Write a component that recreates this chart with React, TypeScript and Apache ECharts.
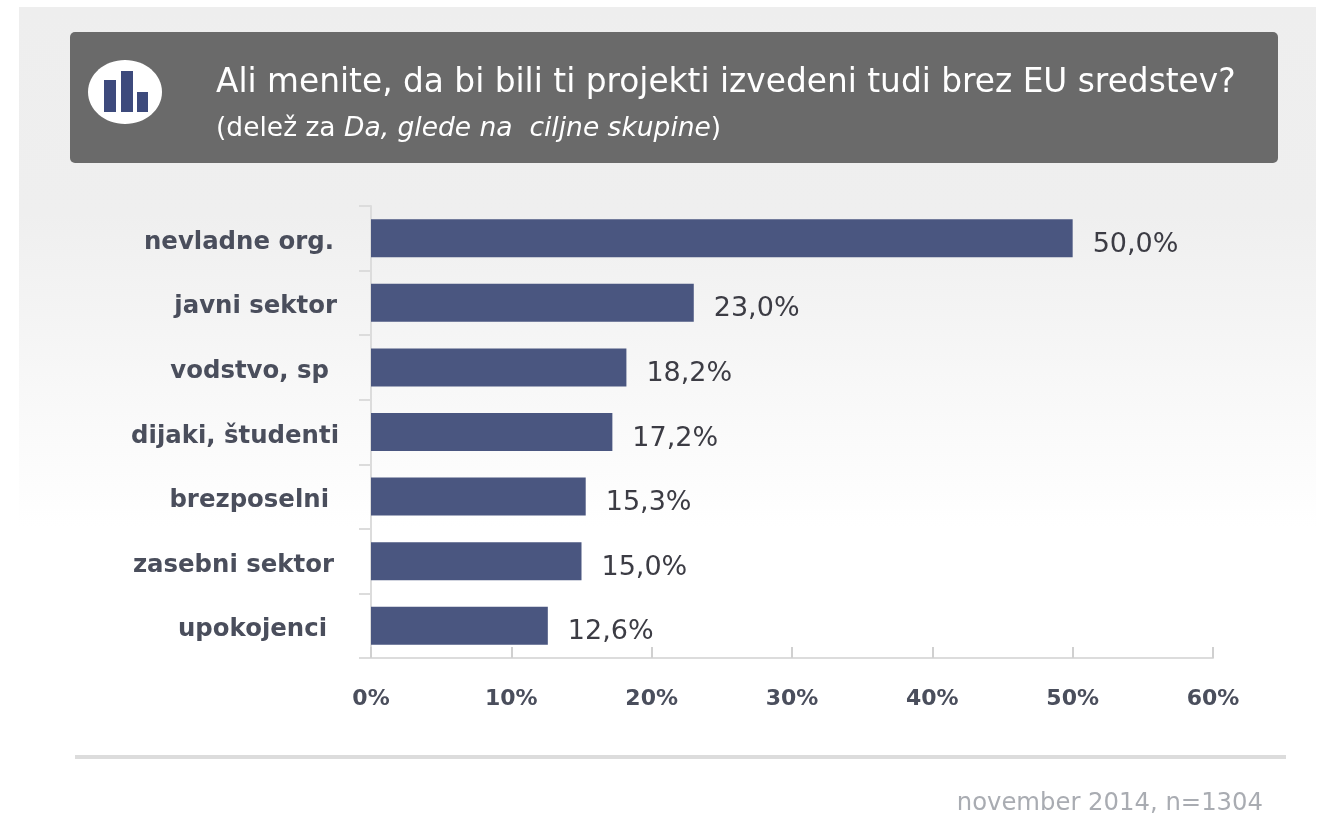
import React, { useEffect, useRef } from "react";
import * as echarts from "echarts";

const categories = ["nevladne org.", "javni sektor", "vodstvo, sp", "dijaki, študenti", "brezposelni", "zasebni sektor", "upokojenci"];
const values = [50.0, 23.0, 18.2, 17.2, 15.3, 15.0, 12.6];
const labelInsets = [5, 2, 10, 0, 10, 5, 12];
const titleText = "Ali menite, da bi bili ti projekti izvedeni tudi brez EU sredstev?";
const footerText = "november 2014, n=1304";
const FONT = "'DejaVu Sans', sans-serif";

export default function App() {
  const ref = useRef<HTMLDivElement>(null);
  useEffect(() => {
    const chart = echarts.init(ref.current!, undefined, { renderer: "svg" });
    const rich: any = {};
    labelInsets.forEach((p, i) => {
      rich["c" + i] = { fontFamily: FONT, fontSize: 24.4, fontWeight: "bold", color: "#4a4e5c", padding: [4, p, 0, 0] };
    });
    chart.setOption({
      animation: false,
      backgroundColor: "#ffffff",
      grid: { left: 371, right: 110, top: 206, bottom: 156 },
      xAxis: {
        type: "value", min: 0, max: 60, interval: 10,
        splitLine: { show: false },
        axisLine: { show: true, lineStyle: { color: "#dcdcdc", width: 2 } },
        axisTick: { show: true, inside: true, length: 11, lineStyle: { color: "#d0d0d0", width: 2 } },
        axisLabel: { margin: 28, fontFamily: FONT, fontSize: 22, fontWeight: "bold", color: "#4a4e5c", formatter: "{value}%" },
      },
      yAxis: {
        type: "category", inverse: true, data: categories,
        axisLine: { show: true, onZero: false, lineStyle: { color: "#dcdcdc", width: 2 } },
        axisTick: { show: true, length: 12, lineStyle: { color: "#dcdcdc", width: 2 } },
        axisLabel: {
          margin: 32,
          formatter: (v: string) => `{c${categories.indexOf(v)}|${v}}`,
          rich,
        },
      },
      series: [{
        type: "bar", data: values, barWidth: 38, itemStyle: { color: "#4a5680" },
        label: {
          show: true, position: "right", distance: 20, offset: [0, 4],
          fontFamily: FONT, fontSize: 27, color: "#3c3c44",
          formatter: (p: any) => p.value.toFixed(1).replace(".", ",") + "%",
        },
      }],
      graphic: [
        { type: "rect", z: -10, silent: true, shape: { x: 19, y: 7, width: 1297, height: 520 },
          style: { fill: new echarts.graphic.LinearGradient(0, 0, 0, 1, [
            { offset: 0, color: "#eeeeee" }, { offset: 0.4, color: "#efefef" }, { offset: 1, color: "#ffffff" },
          ]) } },
        { type: "rect", z: 1, shape: { x: 70, y: 32, width: 1208, height: 131, r: 5 }, style: { fill: "#6a6a6a" } },
        { type: "ellipse", z: 2, shape: { cx: 125, cy: 92, rx: 37, ry: 32 }, style: { fill: "#ffffff" } },
        { type: "rect", z: 3, shape: { x: 104, y: 80, width: 12, height: 32 }, style: { fill: "#3d4a7c" } },
        { type: "rect", z: 3, shape: { x: 121, y: 71, width: 12, height: 41 }, style: { fill: "#3d4a7c" } },
        { type: "rect", z: 3, shape: { x: 137, y: 92, width: 11, height: 20 }, style: { fill: "#3d4a7c" } },
        { type: "text", z: 3, x: 216, y: 81, style: { text: titleText, fill: "#ffffff", font: `32.8px ${FONT}`, verticalAlign: "middle" } },
        { type: "text", z: 3, x: 216, y: 126, style: {
          text: "{n|(delež za }{i|Da, glede na  ciljne skupine}{n|)}",
          verticalAlign: "middle",
          rich: {
            n: { fill: "#ffffff", fontFamily: FONT, fontSize: 26.5 },
            i: { fill: "#ffffff", fontFamily: FONT, fontSize: 26.5, fontStyle: "italic" },
          },
        } },
        { type: "rect", z: 1, shape: { x: 75, y: 755, width: 1211, height: 4 }, style: { fill: "#dcdcdc" } },
        { type: "text", z: 3, x: 1263, y: 801, style: { text: footerText, fill: "#a9acb2", font: `24.3px ${FONT}`, align: "right", verticalAlign: "middle" } },
      ],
    });
    return () => chart.dispose();
  }, []);
  return <div ref={ref} style={{ position: "absolute", left: 0, top: 0, width: 1323, height: 814, filter: "blur(0.5px)" }} />;
}
